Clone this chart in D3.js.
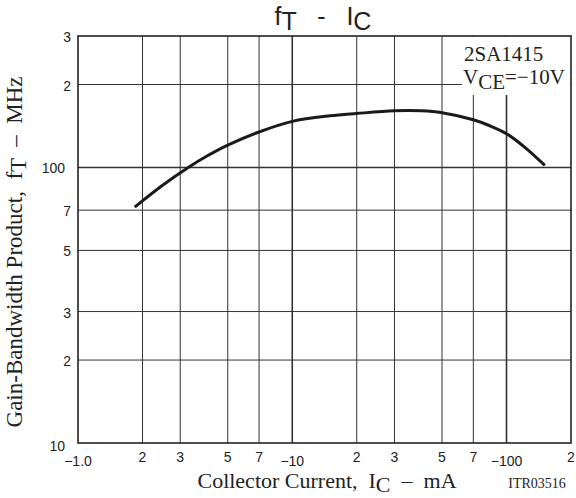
<!DOCTYPE html>
<html>
<head>
<meta charset="utf-8">
<script src="https://cdn.jsdelivr.net/npm/d3@7"></script>
<style>
  body { margin: 0; background: #fff; }
  svg { display: block; }
  .tick-label { font-family: "Liberation Sans", Arial, sans-serif; font-size: 14px; fill: #222; }
  .serif { font-family: "Liberation Serif", "Times New Roman", serif; fill: #222; }
</style>
</head>
<body>
<svg width="576" height="498"></svg>
<script>
// collector current (mA) and fT (MHz)
var icValues = [1.84, 2.5, 3.27, 4, 5, 7, 10, 15, 20, 30, 40, 50, 70, 83, 100, 123, 151];
var ftValues = [71.8, 86.5, 100, 110, 120.5, 134.5, 147, 154, 157, 160.5, 160.5, 158, 149, 142, 132.6, 117.6, 101.7];

var xTickValues = [1, 2, 3, 5, 7, 10, 20, 30, 50, 70, 100, 200];
var xTickLabels = ["\u22121.0", "2", "3", "5", "7", "\u221210", "2", "3", "5", "7", "\u2212100", "2"];
var yTickValues = [10, 20, 30, 50, 70, 100, 200, 300];
var yTickLabels = ["10", "2", "3", "5", "7", "100", "2", "3"];

drawChart();

function drawChart() {
  var svg = d3.select("svg");
  var plot = { left: 78, right: 571, top: 36, bottom: 443 };

  var x = d3.scaleLog().domain([1, 200]).range([plot.left, plot.right]);
  var y = d3.scaleLog().domain([10, 300]).range([plot.bottom, plot.top]);

  function isDecade(v) { return Math.abs(Math.log10(v) - Math.round(Math.log10(v))) < 1e-9; }

  // grid
  var grid = svg.append("g");
  grid.selectAll(".vx")
    .data(xTickValues.slice(1, -1))
    .enter().append("line")
    .attr("x1", function (d) { return x(d); })
    .attr("x2", function (d) { return x(d); })
    .attr("y1", plot.top).attr("y2", plot.bottom)
    .attr("stroke", "#333")
    .attr("stroke-width", function (d) { return isDecade(d) ? 1.6 : 1; });

  grid.selectAll(".hy")
    .data(yTickValues.slice(1, -1))
    .enter().append("line")
    .attr("y1", function (d) { return y(d); })
    .attr("y2", function (d) { return y(d); })
    .attr("x1", plot.left).attr("x2", plot.right)
    .attr("stroke", "#333")
    .attr("stroke-width", function (d) { return isDecade(d) ? 1.6 : 1; });

  // curve
  var line = d3.line()
    .x(function (d) { return x(d[0]); })
    .y(function (d) { return y(d[1]); })
    .curve(d3.curveCatmullRom);

  svg.append("path")
    .datum(d3.zip(icValues, ftValues))
    .attr("d", line)
    .attr("fill", "none")
    .attr("stroke", "#1a1a1a")
    .attr("stroke-width", 3);

  // legend box covers the grid
  svg.append("rect")
    .attr("x", 462).attr("y", plot.top + 1)
    .attr("width", plot.right - 462 - 1).attr("height", 58)
    .attr("fill", "#fff");

  svg.append("text").attr("class", "serif")
    .attr("x", 464).attr("y", 61)
    .attr("font-size", 21)
    .text("2SA1415");

  var vce = svg.append("text").attr("class", "serif")
    .attr("x", 463).attr("y", 84)
    .attr("font-size", 21);
  vce.append("tspan").text("V");
  vce.append("tspan").attr("dy", 5).text("CE");
  vce.append("tspan").attr("dy", -5).text("=\u221210V");

  // frame
  svg.append("rect")
    .attr("x", plot.left).attr("y", plot.top)
    .attr("width", plot.right - plot.left).attr("height", plot.bottom - plot.top)
    .attr("fill", "none")
    .attr("stroke", "#222")
    .attr("stroke-width", 1.6);

  // tick labels
  svg.selectAll(".xl")
    .data(xTickValues)
    .enter().append("text")
    .attr("class", "tick-label")
    .attr("x", function (d) { return x(d); })
    .attr("y", function (d) { return isDecade(d) ? 466 : 462; })
    .attr("text-anchor", "middle")
    .text(function (d, i) { return xTickLabels[i]; });

  svg.selectAll(".yl")
    .data(yTickValues)
    .enter().append("text")
    .attr("class", "tick-label")
    .attr("x", function (d) { return isDecade(d) ? 65 : 71; })
    .attr("y", function (d) { return y(d) + (d === 10 ? 8 : 6); })
    .attr("text-anchor", "end")
    .text(function (d, i) { return yTickLabels[i]; });

  // titles
  var title = svg.append("text")
    .attr("x", 323).attr("y", 25)
    .attr("text-anchor", "middle")
    .attr("font-family", "Liberation Sans, Arial, sans-serif")
    .attr("font-size", 25)
    .attr("fill", "#222")
    .attr("xml:space", "preserve");
  title.append("tspan").text("f");
  title.append("tspan").attr("dy", 5).text("T");
  title.append("tspan").attr("dy", -5).text("   -   I");
  title.append("tspan").attr("dy", 5).text("C");

  var xt = svg.append("text").attr("class", "serif")
    .attr("x", 327).attr("y", 488)
    .attr("text-anchor", "middle")
    .attr("font-size", 22)
    .attr("xml:space", "preserve");
  xt.append("tspan").text("Collector Current,  I");
  xt.append("tspan").attr("dy", 4).text("C");
  xt.append("tspan").attr("dy", -4).text("  \u2013  mA");

  svg.append("text").attr("class", "serif")
    .attr("x", 537).attr("y", 488)
    .attr("text-anchor", "middle")
    .attr("font-size", 14)
    .text("ITR03516");

  var yt = svg.append("text").attr("class", "serif")
    .attr("transform", "translate(22,252) rotate(-90)")
    .attr("text-anchor", "middle")
    .attr("font-size", 23)
    .attr("xml:space", "preserve");
  yt.append("tspan").text("Gain-Bandwidth Product,  f");
  yt.append("tspan").attr("dy", 4).text("T");
  yt.append("tspan").attr("dy", -4).text("  \u2013  MHz");
}
</script>
</body>
</html>
